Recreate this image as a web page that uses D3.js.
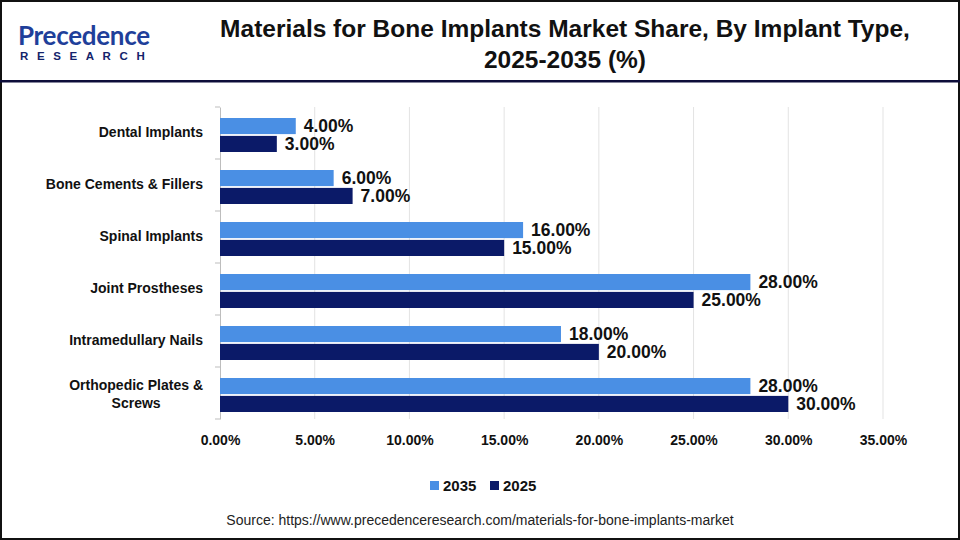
<!DOCTYPE html>
<html>
<head>
<meta charset="utf-8">
<script src="https://cdn.jsdelivr.net/npm/d3@7"></script>
<style>
  body { margin: 0; background: #fff; }
  svg { display: block; font-family: "Liberation Sans", Arial, sans-serif; }
</style>
</head>
<body>
<div id="chart"></div>
<script>
// data
var categories = ["Dental Implants", "Bone Cements & Fillers", "Spinal Implants", "Joint Prostheses", "Intramedullary Nails", "Orthopedic Plates & Screws"];
var series = ["2035", "2025"];
var values2035 = [4, 6, 16, 28, 18, 28];
var values2025 = [3, 7, 15, 25, 20, 30];
var xTicks = [0, 5, 10, 15, 20, 25, 30, 35];

var colors = { "2035": "#4a8fe4", "2025": "#0b1a68" };

var W = 960, H = 540;
var margin = { top: 107, left: 220, right: 77, bottom: 121 };
var width = W - margin.left - margin.right,
    height = H - margin.top - margin.bottom;

var svg = d3.select("#chart").append("svg")
    .attr("width", W)
    .attr("height", H);

// frame + header rule
svg.append("rect").attr("x", 1).attr("y", 1).attr("width", W - 2).attr("height", H - 2)
    .attr("fill", "none").attr("stroke", "#111").attr("stroke-width", 2);
svg.append("rect").attr("x", 0).attr("y", 80).attr("width", W).attr("height", 2.5).attr("fill", "#0d0d3a");

// logo
var logo = svg.append("g").attr("transform", "translate(18,0)");
logo.append("text").attr("x", 0).attr("y", 45)
    .style("font-family", "Lato, 'Open Sans', sans-serif").style("font-size", "26px").style("font-weight", "700")
    .attr("fill", "#1f3f9a").attr("letter-spacing", "-0.3")
    .text("Precedence");
logo.append("text").attr("x", 2).attr("y", 60)
    .style("font-size", "11.5px").style("font-weight", "700")
    .attr("fill", "#14236b").attr("letter-spacing", "8.6")
    .text("RESEARCH");

// title
var title = svg.append("text").attr("x", 565).attr("text-anchor", "middle")
    .style("font-size", "24.5px").style("font-weight", "700").attr("fill", "#111");
title.append("tspan").attr("x", 565).attr("y", 37).text("Materials for Bone Implants Market Share, By Implant Type,");
title.append("tspan").attr("x", 565).attr("y", 68).text("2025-2035 (%)");

var g = svg.append("g").attr("transform", "translate(" + margin.left + "," + margin.top + ")");

var x = d3.scaleLinear().domain([0, 35]).range([0, 663]);
var y = d3.scaleBand().domain(categories).range([0, height]);
var inner = d3.scaleBand().domain(series).range([11, 45]).paddingInner(0.1);

// gridlines
g.selectAll(".grid").data(xTicks.slice(1)).join("line")
    .attr("class", "grid")
    .attr("x1", d => x(d)).attr("x2", d => x(d))
    .attr("y1", 0).attr("y2", height)
    .attr("stroke", "#e3e3e3").attr("stroke-width", 1);

// x axis (labels only)
var xAxis = g.append("g").attr("transform", "translate(0," + height + ")")
    .call(d3.axisBottom(x).tickValues(xTicks).tickSize(0).tickPadding(16).tickFormat(d => d.toFixed(2) + "%"));
xAxis.select(".domain").remove();
xAxis.selectAll("text").style("font-size", "14px").style("font-weight", "700").attr("fill", "#111")
    .style("font-family", "'Liberation Sans', Arial, sans-serif");

// y axis
var yAxis = g.append("g").call(d3.axisLeft(y).tickSize(0).tickPadding(17));
yAxis.select(".domain").attr("stroke", "#bdbdbd");
yAxis.selectAll("text").style("font-size", "14px").style("font-weight", "700").attr("fill", "#111")
    .style("font-family", "'Liberation Sans', Arial, sans-serif")
    .each(function(d) {
        var t = d3.select(this);
        if (d === "Orthopedic Plates & Screws") {
            t.text("Orthopedic Plates &");
            var w = this.getComputedTextLength();
            t.text(null).attr("text-anchor", "middle");
            t.append("tspan").attr("x", -17 - w / 2).attr("dy", "-0.2em").text("Orthopedic Plates &");
            t.append("tspan").attr("x", -17 - w / 2).attr("dy", "1.25em").text("Screws");
        }
    });
// band boundary ticks
g.selectAll(".btick").data(d3.range(categories.length + 1)).join("line")
    .attr("class", "btick")
    .attr("x1", -5).attr("x2", 0)
    .attr("y1", i => i * y.step()).attr("y2", i => i * y.step())
    .attr("stroke", "#bdbdbd");

var rows = categories.map((c, i) => ({ cat: c, vals: [{ s: "2035", v: values2035[i] }, { s: "2025", v: values2025[i] }] }));

var grp = g.selectAll(".cat").data(rows).join("g")
    .attr("class", "cat")
    .attr("transform", d => "translate(0," + y(d.cat) + ")");

grp.selectAll("rect").data(d => d.vals).join("rect")
    .attr("x", 0)
    .attr("y", d => inner(d.s))
    .attr("width", d => x(d.v))
    .attr("height", inner.bandwidth())
    .attr("fill", d => colors[d.s]);

grp.selectAll(".lbl").data(d => d.vals).join("text")
    .attr("class", "lbl")
    .attr("x", d => x(d.v) + 8)
    .attr("y", d => inner(d.s) + inner.bandwidth() / 2)
    .attr("dy", "0.36em")
    .style("font-size", "17.5px").style("font-weight", "700").attr("fill", "#111")
    .text(d => d.v.toFixed(2) + "%");

// legend
var legend = svg.append("g").attr("transform", "translate(430,486)");
series.forEach(function(s, i) {
    var lg = legend.append("g").attr("transform", "translate(" + (i * 60) + ",0)");
    lg.append("rect").attr("x", 0).attr("y", -5).attr("width", 9).attr("height", 9).attr("fill", colors[s]);
    lg.append("text").attr("x", 13).attr("y", 0).attr("dy", "0.36em")
        .style("font-size", "15px").style("font-weight", "700").attr("fill", "#111").text(s);
});

// source
svg.append("text").attr("x", 480).attr("y", 525).attr("text-anchor", "middle")
    .style("font-size", "14px").attr("fill", "#222")
    .text("Source: https://www.precedenceresearch.com/materials-for-bone-implants-market");
</script>
</body>
</html>
